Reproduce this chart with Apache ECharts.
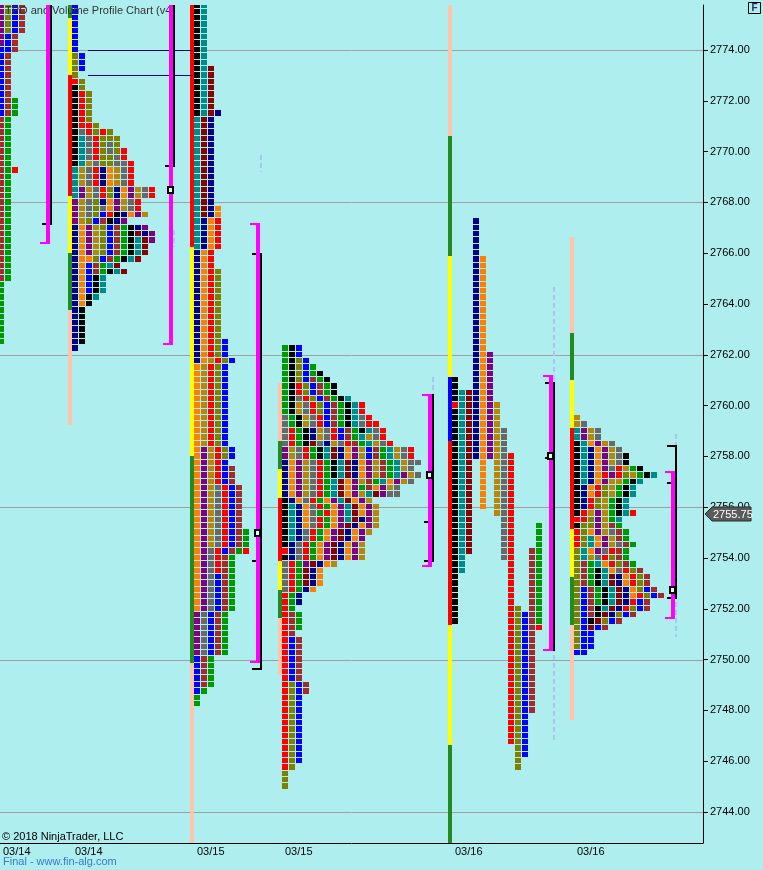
<!DOCTYPE html>
<html><head><meta charset="utf-8">
<script src="https://cdn.jsdelivr.net/npm/echarts@6/dist/echarts.min.js"></script>
<style>html,body{margin:0;padding:0;background:#afeeee;} #c{width:763px;height:870px;}</style>
</head><body><div id="c"></div>
<script>
// ---------------- DATA ----------------
const priceTicks = [2744,2746,2748,2750,2752,2754,2756,2758,2760,2762,2764,2766,2768,2770,2772,2774];
const gridPrices = [2744,2750,2756,2762,2768,2774];
const dateLabels = ['03/14','03/14','03/15','03/15','03/16','03/16'];
// profile start, in TPO columns
const profileStarts = [-0.2857, 10.2857, 27.7143, 40.2857, 64.5714, 82.0];
const profileTops = [2775.75, 2775.75, 2775.75, 2762.25, null, 2759.5];

// merged TPO rows: [number of consecutive price rows, letters (colour codes) from left]
const p1Rows = [[5,'POBW'],[2,'PBW'],[1,'BBW'],[7,'BW'],[3,'BWG'],[8,'WG'],[1,'WGR'],[17,'WG'],[10,'G']];
const p2Rows = [[8,'B'],[3,'OB'],[1,'O'],[1,'RO'],[1,'KO'],[5,'KRO'],[1,'KRRO'],[1,'KARORO'],[1,'KTAROOO'],
  [1,'KTAROAO'],[1,'KTAROAOR'],[1,'KTAROOAR'],[1,'KTDAOOAAR'],[3,'TDARNEDAR'],[2,'TPDARONEPDAR'],
  [1,'PDAONEPDAR'],[1,'PDAOAEPDAR'],[1,'PDAOBRKNEPD'],[1,'PDOBWKNP'],[1,'NEPDOBWGKNP'],[1,'NEPDOBWGKMNP'],
  [1,'NEPDOBWGKTMP'],[2,'NEPDOBWGKTM'],[1,'NEEOBWGKTM'],[1,'NEBWGTM'],[1,'NEBWGKTM'],[3,'NEBKT'],
  [1,'NEKT'],[1,'NEK'],[6,'NK'],[1,'N']];
const p3Rows = [[10,'KT'],[7,'KTM'],[1,'KTMN'],[14,'TMN'],[2,'TMNE'],[5,'TNER'],[3,'NER'],[11,'NERO'],
  [3,'NEROB'],[1,'NEDROB'],[13,'EDROB'],[2,'EPDROB'],[1,'EPDRB'],[3,'EPDRBW'],[7,'EPDARBW'],[3,'EPDARBWG'],
  [1,'EPARBWGR'],[3,'EPARWG'],[6,'EPABWG'],[7,'PABWG'],[5,'BWG'],[1,'BG'],[2,'G']];
const p4Rows = [[2,'GKB'],[1,'GKOB'],[1,'GKOBG'],[1,'GKOBGK'],[1,'GKOBWGK'],[2,'GKROBWGK'],[1,'GKAROBWGKT'],
  [2,'GKDAROBWGKTR'],[1,'AGKDARBWGKTAR'],[1,'AGKDARBWGKTARR'],[1,'ARGKNDARBWGKTAR'],[1,'ARGKNDARBWGTDAR'],
  [1,'ARGKMANDARWGTDAR'],[2,'PDARGKTMNEPDBWGTDAR'],[1,'NEPDARGKTMNEPDWGTDAA'],[1,'NEPDARGKTMNEPDWGTDA'],
  [1,'NEPDARGKTMNEPDWGTPDA'],[1,'NEPDARGTMEPDWGTEPDA'],[1,'NEPDARGTMEPGWEPDA'],[1,'NEPDARGTMEPDTMPAA'],
  [1,'KNEARGEPTMEPD'],[1,'KTNEARGEPTMEPD'],[1,'KTNEAGREPTMEPD'],[1,'KTNEARGEPTMNPD'],[1,'KTNEARGEPMNEPD'],
  [1,'KTNARGEPMNEPD'],[1,'KTNARGEPMNEP'],[1,'KNARGEPMNEPD'],[1,'RNARGEPMNEPD'],[1,'KNARGEPMNEPD'],
  [1,'ARGPMNED'],[3,'ARGMNE'],[1,'ARGNE'],[2,'RGN'],[1,'RG'],[3,'RWG'],[1,'RW'],[7,'RBW'],[2,'ROBW'],
  [11,'ROB'],[1,'RO'],[3,'O']];
const p6Rows = [[1,'D'],[1,'DA'],[2,'TPDA'],[1,'KTEPDA'],[1,'KTNEPDA'],[2,'KTNEPDAK'],[1,'KTNEPARDGK'],
  [1,'KTNERPRODGKT'],[1,'KTNEPDDGKT'],[2,'KNERODGKT'],[2,'KNRODGKT'],[1,'KRDPDGKTR'],[1,'RROPDGT'],
  [1,'KOOPDWG'],[1,'ROEPDAWG'],[1,'ROTEPDWG'],[1,'ROTEPDAWG'],[1,'OTEPARWG'],[1,'OTDAROWG'],[1,'OWGTEROWG'],
  [1,'OWGKTEAROW'],[2,'OWGKTMNEROW'],[1,'OBWGKTMNEOBW'],[1,'OBWGKTMNEROBW'],[1,'OBWGKTMNRBW'],
  [1,'OBWKTMNROBW'],[1,'OBWKMNOBW'],[1,'OBKMOBW'],[1,'OBMBW'],[3,'OBB'],[1,'BB']];
// split profile (one column per period): [code, high, low]
const p5Columns = [['K',2761.0,2751.5],['T',2760.5,2753.5],['M',2760.5,2754.25],['N',2767.25,2758.0],
  ['E',2765.75,2756.0],['P',2762.0,2758.0],['D',2760.0,2755.75],['A',2759.0,2754.0],['R',2758.0,2746.75],
  ['O',2752.0,2745.75],['B',2751.75,2746.25],['W',2754.25,2748.0],['G',2755.25,2751.25]];
const p5Overrides = [[0,2760.0,'R'],[12,2751.25,'R']];

// session range bars: [code, high edge, low edge]
const p2Bar = [['G',2776,2775.25],['Y',2775.25,2773],['R',2773,2768.25],['Y',2768.25,2766],['G',2766,2763.75],['S',2763.75,2759.25]];
const p3Bar = [['R',2776,2766.25],['Y',2766.25,2758],['G',2758,2749.875],['S',2749.875,2742]];
const p4Bar = [['S',2760.875,2758.625],['G',2758.625,2757.5],['Y',2757.5,2756.375],['R',2756.375,2753.875],['Y',2753.875,2752.75],['G',2752.75,2751.625],['S',2751.625,2749.375]];
const p5Bar = [['S',2776,2770.625],['G',2770.625,2765.875],['Y',2765.875,2761.125],['B',2761.125,2758.625],['R',2758.625,2751.375],['Y',2751.375,2746.625],['G',2746.625,2742]];
const p6Bar = [['S',2766.625,2762.875],['G',2762.875,2761.0],['Y',2761.0,2759.125],['R',2759.125,2755.125],['Y',2755.125,2753.25],['G',2753.25,2751.375],['S',2751.375,2747.625]];

// value area / range brackets per profile
const vaColumn = [6.5714, 24.1429, 36.5714, 61.1429, 78.4286, 95.8571];
const vaHigh = [2776.5, 2776.5, 2767.19, 2760.46, 2761.2, 2757.43];
const vaLow = [2766.375, 2762.375, 2749.875, 2753.65, 2750.34, 2751.6];
const rangeHigh = [2776.5, 2776.5, 2766.0, 2760.46, 2760.93, 2758.45];
const rangeLow = [2767.125, 2769.375, 2749.6, 2753.84, 2750.34, 2752.39];
const pocPrice = [null, 2768.5, 2755.0, 2757.25, 2758.0, 2752.75];
const rangeTicks = [[2, 2753.9], [3, 2755.4], [4, 2757.93], [5, 2756.94]];
// naked POC lines: [price, from column, to column]
const nakedLines = [[2774.0, 12.571, 27.571], [2773.0, 12.571, 27.571]];
// light dashed reference lines: [column, high, low]
const refLines = [[79.0, 2764.67, 2746.83], [96.43, 2758.88, 2750.89], [37.143, 2769.87, 2769.2], [61.714, 2761.13, 2760.46], [24.714, 2766.91, 2766.24]];
const lastPrice = 2755.75;

// ---------------- STYLE ----------------
const palette = {G:'#009a00',K:'#000000',B:'#0000ff',O:'#808000',W:'#a52a2a',R:'#ff0000',A:'#696969',D:'#b8860b',T:'#008b8b',N:'#00008b',E:'#ff8000',M:'#8b0000',P:'#800080'};
const barPalette = {G:'#228b22',Y:'#ffff00',R:'#ff0000',S:'#ffc4aa',B:'#0000ff'};
const FONT = '"Liberation Sans", Arial, sans-serif';
const X_MAX = 703/7;
const Y_MAX = 2774 + 45/25.4;
const Y_MIN = Y_MAX - 838/25.4;

// ---------------- BUILD ----------------
const cells = [];
function addMerged(rows, x0, top) {
  let p = top;
  rows.forEach(([n, s]) => {
    for (let r = 0; r < n; r++) {
      for (let i = 0; i < s.length; i++) {
        const c = s[i];
        if (palette[c]) cells.push({value:[x0 + i, p], itemStyle:{color: palette[c]}});
      }
      p -= 0.25;
    }
  });
}
addMerged(p1Rows, profileStarts[0], profileTops[0]);
addMerged(p2Rows, profileStarts[1], profileTops[1]);
addMerged(p3Rows, profileStarts[2], profileTops[2]);
addMerged(p4Rows, profileStarts[3], profileTops[3]);
addMerged(p6Rows, profileStarts[5], profileTops[5]);
p5Columns.forEach(([c, hi, lo], j) => {
  for (let p = hi; p >= lo - 1e-9; p -= 0.25) {
    const ov = p5Overrides.find(o => o[0] === j && Math.abs(o[1] - p) < 1e-6);
    cells.push({value:[profileStarts[4] + j, p], itemStyle:{color: palette[ov ? ov[2] : c]}});
  }
});

const bars = [];
[[p2Bar,1],[p3Bar,2],[p4Bar,3],[p5Bar,4],[p6Bar,5]].forEach(([segs, pi]) => {
  segs.forEach(([c, hi, lo]) => bars.push({value:[profileStarts[pi] - 4/7, hi, lo], itemStyle:{color: barPalette[c]}}));
});

const brackets = vaColumn.map((c, i) => [c, vaHigh[i], vaLow[i], rangeHigh[i], rangeLow[i]]);
const pocs = vaColumn.map((c, i) => [c, pocPrice[i]]).filter(d => d[1] != null);
const ticks = rangeTicks.map(([i, p]) => [vaColumn[i], p]);
const labelPositions = profileStarts.map(s => Math.max(s, 0) + 3/7);

const chart = echarts.init(document.getElementById('c'), null, {renderer:'canvas'});
chart.setOption({
  backgroundColor:'#afeeee',
  animation:false,
  title:{text:'TPO and Volume Profile Chart (v4)', left:5, top:5, padding:0, z:4,
    textStyle:{fontSize:11, fontWeight:'normal', color:'#333', fontFamily:FONT}},
  grid:{left:0, right:60, top:5, bottom:27},
  xAxis:{type:'value', min:0, max:X_MAX,
    axisLine:{show:true, onZero:false, lineStyle:{color:'#000', width:1}},
    axisTick:{show:false}, splitLine:{show:false},
    axisLabel:{customValues: labelPositions, align:'left', margin:3, color:'#000', fontSize:11, fontFamily:FONT,
      formatter: v => { const i = labelPositions.findIndex(p => Math.abs(p - v) < 1e-3); return i >= 0 ? dateLabels[i] : ''; }}
  },
  yAxis:{type:'value', position:'right', min:Y_MIN, max:Y_MAX, scale:true,
    axisLine:{show:true, onZero:false, lineStyle:{color:'#000', width:1}},
    axisTick:{show:true, length:5, customValues: priceTicks, lineStyle:{color:'#000'}},
    axisLabel:{customValues: priceTicks, margin:7, color:'#000', fontSize:11, fontFamily:FONT, formatter: v => Number(v).toFixed(2)},
    splitLine:{show:false}
  },
  graphic:[
    {type:'text', x:2, y:831, z:0, style:{text:'\u00a9 2018 NinjaTrader, LLC', fill:'#000', font:'11px ' + FONT}},
    {type:'text', x:3, y:856, z:0, style:{text:'Final - www.fin-alg.com', fill:'#3a78d0', font:'11px ' + FONT}},
    {type:'rect', z:0, shape:{x:748.5, y:2.5, width:12, height:11}, style:{fill:'none', stroke:'#000', lineWidth:1}},
    {type:'text', x:751.5, y:3, z:0, style:{text:'F', fill:'#203060', font:'bold 10px ' + FONT}}
  ],
  series:[
    {type:'custom', name:'grid', z:1, clip:true, data: gridPrices.map(p => [0, p]), encode:{x:0, y:1},
      renderItem:(params, api) => {
        const cs = params.coordSys; const y = Math.round(api.coord([0, api.value(1)])[1]) + 0.5;
        return {type:'line', shape:{x1:cs.x, y1:y, x2:cs.x + cs.width, y2:y}, style:{stroke:'#a0a0a0', lineWidth:1}};
      }},
    {type:'custom', name:'range bars', z:2, clip:true, data: bars, encode:{x:0, y:[1,2]}, progressive:0,
      renderItem:(params, api) => {
        const a = api.coord([api.value(0), api.value(1)]), b = api.coord([api.value(0), api.value(2)]);
        const x = Math.round(a[0]), y1 = Math.round(a[1]), y2 = Math.round(b[1]);
        return {type:'rect', shape:{x:x, y:y1, width:4, height:y2 - y1}, style:{fill: api.visual('color')}};
      }},
    {type:'custom', name:'tpo', z:3, clip:true, data: cells, encode:{x:0, y:1}, progressive:0,
      renderItem:(params, api) => {
        const x = api.value(0), p = api.value(1);
        const a = api.coord([x, p + 0.125]), b = api.coord([x + 1, p - 0.125]);
        const x1 = Math.round(a[0]), y1 = Math.round(a[1]), x2 = Math.round(b[0]) - 1, y2 = Math.round(b[1]) - 1;
        return {type:'rect', shape:{x:x1, y:y1, width:x2 - x1, height:y2 - y1}, style:{fill: api.visual('color')}};
      }},
    {type:'custom', name:'naked poc', z:4, clip:true, data: nakedLines, encode:{x:[1,2], y:0},
      renderItem:(params, api) => {
        const a = api.coord([api.value(1), api.value(0)]), b = api.coord([api.value(2), api.value(0)]);
        const y = Math.round(a[1]) + 0.5;
        return {type:'line', shape:{x1:a[0], y1:y, x2:b[0], y2:y}, style:{stroke:'#000080', lineWidth:1}};
      }},
    {type:'custom', name:'ref', z:4, clip:true, data: refLines, encode:{x:0, y:[1,2]},
      renderItem:(params, api) => {
        const a = api.coord([api.value(0), api.value(1)]), b = api.coord([api.value(0), api.value(2)]);
        const x = Math.round(a[0]) + 1;
        return {type:'line', shape:{x1:x, y1:a[1], x2:x, y2:b[1]}, style:{stroke:'#a9c6f2', lineWidth:2, lineDash:[5,3]}};
      }},
    {type:'custom', name:'ticks', z:5, clip:true, data: ticks, encode:{x:0, y:1},
      renderItem:(params, api) => {
        const a = api.coord([api.value(0), api.value(1)]);
        const bx = Math.round(a[0]) + 4, y = Math.round(a[1]);
        return {type:'rect', shape:{x:bx - 8, y:y - 1, width:10, height:2}, style:{fill:'#000'}};
      }},
    {type:'custom', name:'brackets', z:5, clip:true, data: brackets, encode:{x:0, y:[1,2,3,4]},
      renderItem:(params, api) => {
        const c = api.value(0);
        const mx = Math.round(api.coord([c, api.value(1)])[0]);
        const yT = Math.round(api.coord([c, api.value(1)])[1]), yB = Math.round(api.coord([c, api.value(2)])[1]);
        const rT = Math.round(api.coord([c, api.value(3)])[1]), rB = Math.round(api.coord([c, api.value(4)])[1]);
        const bx = mx + 4;
        const k = {fill:'#000'}, m = {fill:'#ff00ff'};
        return {type:'group', children:[
          {type:'rect', shape:{x:bx, y:rT, width:2, height:rB - rT}, style:k},
          {type:'rect', shape:{x:bx - 8, y:rT, width:10, height:2}, style:k},
          {type:'rect', shape:{x:bx - 8, y:rB - 2, width:10, height:2}, style:k},
          {type:'rect', shape:{x:mx, y:yT, width:4, height:yB - yT}, style:m},
          {type:'rect', shape:{x:mx - 6, y:yT, width:10, height:2}, style:m},
          {type:'rect', shape:{x:mx - 6, y:yB - 2, width:10, height:2}, style:m}
        ]};
      }},
    {type:'custom', name:'poc', z:6, clip:true, data: pocs, encode:{x:0, y:1},
      renderItem:(params, api) => {
        const a = api.coord([api.value(0), api.value(1)]);
        const x = Math.round(a[0]) - 2, y = Math.round(a[1]) - 4;
        return {type:'rect', shape:{x:x + 1, y:y + 1, width:5, height:6}, style:{fill:'#e0ffff', stroke:'#000', lineWidth:2}};
      }},
    {type:'custom', name:'last', z:10, clip:false, data: [[X_MAX, lastPrice]], encode:{x:0, y:1},
      renderItem:(params, api) => {
        const a = api.coord([api.value(0), api.value(1)]);
        const x = Math.round(a[0]), y = Math.round(a[1]);
        return {type:'group', children:[
          {type:'polygon', shape:{points:[[x + 2, y], [x + 9, y - 7], [x + 48, y - 7], [x + 48, y + 7], [x + 9, y + 7]]}, style:{fill:'#5a5a5a', stroke:'#2a2a2a', lineWidth:1}},
          {type:'text', style:{text: lastPrice.toFixed(2), x:x + 10, y:y + 1, fill:'#fff', font:'11px ' + FONT, verticalAlign:'middle', align:'left'}}
        ]};
      }}
  ]
});
</script></body></html>
